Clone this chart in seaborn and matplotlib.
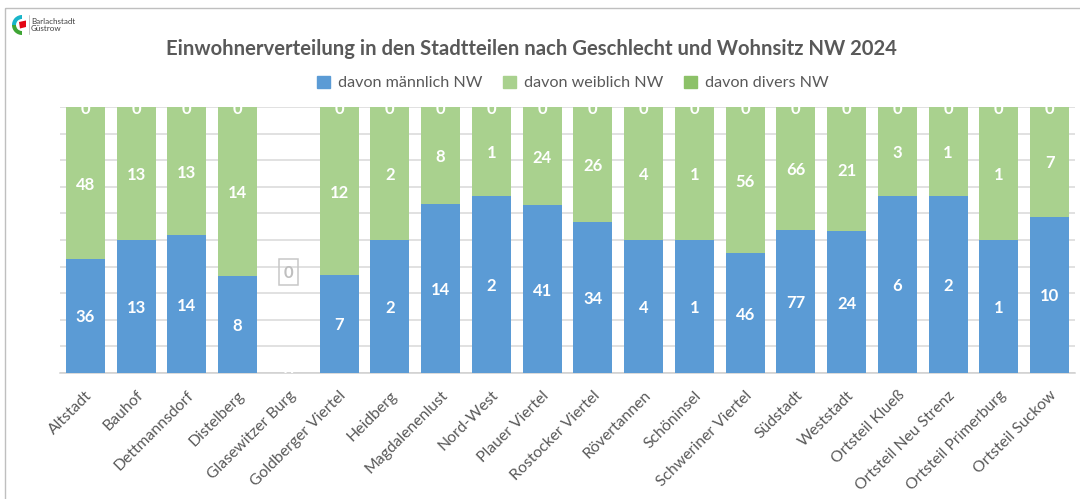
import matplotlib
matplotlib.use('Agg')
import matplotlib.pyplot as plt
from matplotlib.patches import Patch, Rectangle, Polygon, Wedge
import numpy as np
import pandas as pd
import seaborn as sns

# Werte aus dem Diagramm
stadtteile = ['Altstadt', 'Bauhof', 'Dettmannsdorf', 'Distelberg', 'Glasewitzer Burg',
              'Goldberger Viertel', 'Heidberg', 'Magdalenenlust', 'Nord-West', 'Plauer Viertel',
              'Rostocker Viertel', 'Rövertannen', 'Schöninsel', 'Schweriner Viertel', 'Südstadt',
              'Weststadt', 'Ortsteil Klueß', 'Ortsteil Neu Strenz', 'Ortsteil Primerburg', 'Ortsteil Suckow']
maennlich = [36, 13, 14, 8, 0, 7, 2, 14, 2, 41, 34, 4, 1, 46, 77, 24, 6, 2, 1, 10]
weiblich = [48, 13, 13, 14, 0, 12, 2, 8, 1, 24, 26, 4, 1, 56, 66, 21, 3, 1, 1, 7]
divers = [0] * 20
legende = ['davon männlich NW', 'davon weiblich NW', 'davon divers NW']

BLAU = '#5B9BD5'
HELLGRUEN = '#A9D18E'
GRUEN = '#8CC168'
GRAU = '#595959'

sns.set_theme(style='white')
plt.rcParams['font.family'] = ['Lato', 'DejaVu Sans']

df = pd.DataFrame({'stadtteil': stadtteile, 'm': maennlich, 'w': weiblich, 'd': divers})
summe = df[['m', 'w', 'd']].sum(axis=1).replace(0, np.nan)
df['m_anteil'] = (df['m'] / summe).fillna(0)
df['w_anteil'] = (df['w'] / summe).fillna(0)

fig = plt.figure(figsize=(10.8, 4.99), dpi=100)
ax = fig.add_axes([60 / 1080, 1 - 373 / 499, 1015 / 1080, 266 / 499])

sns.barplot(data=df, x='stadtteil', y='m_anteil', color=BLAU, width=0.77, saturation=1, linewidth=0, ax=ax, zorder=3)
sns.barplot(data=df, x='stadtteil', y='w_anteil', bottom=df['m_anteil'], color=HELLGRUEN, width=0.77,
            saturation=1, linewidth=0, ax=ax, zorder=3)

ax.set_xlim(-0.5, 19.5)
ax.set_ylim(0, 1)
ax.set_yticks(np.arange(0, 1.01, 0.1))
ax.tick_params(axis='y', left=False, labelleft=False)
ax.tick_params(axis='x', bottom=False, pad=5)
ax.set_xlabel('')
ax.set_ylabel('')
ax.yaxis.grid(True, color='#D9D9D9', lw=1.1)
ax.set_axisbelow(True)
sns.despine(ax=ax, left=True, right=True, top=True, bottom=False)
ax.spines['bottom'].set_color('#D0D0D0')
ax.spines['bottom'].set_linewidth(1.1)
ax.set_xticks(range(20))
ax.set_xticklabels(stadtteile, rotation=45, ha='right', rotation_mode='anchor', fontsize=11.3, color=GRAU)

# Datenbeschriftungen
opts = dict(color='white', fontsize=12, fontweight='bold', ha='center', va='center_baseline', zorder=5)
for i in range(20):
    if df['m'][i] + df['w'][i] == 0:
        ax.text(i, 0, '0', clip_on=True, **opts)
        ax.text(i, 0.38, '0', color='#BFBFBF', fontsize=12, fontweight='bold', ha='center', va='center_baseline', zorder=5)
        ax.add_patch(Rectangle((i - 0.185, 0.33), 0.37, 0.1, fc='none', ec='#C8C8C8', lw=1.1, zorder=4))
        continue
    m = df['m_anteil'][i]
    w = df['w_anteil'][i]
    ax.text(i, m / 2, str(df['m'][i]), **opts)
    ax.text(i, m + w / 2, str(df['w'][i]), **opts)
    ax.text(i, 1, str(df['d'][i]), clip_on=True, **opts)

fig.text(531 / 1080, 1 - 49 / 499, 'Einwohnerverteilung in den Stadtteilen nach Geschlecht und Wohnsitz NW 2024',
         fontsize=14.6, fontweight='bold', color=GRAU, ha='center', va='center')

griffe = [Patch(color=c) for c in (BLAU, HELLGRUEN, GRUEN)]
fig.legend(griffe, legende, loc='center', bbox_to_anchor=(573 / 1080, 1 - 83 / 499), ncol=3, frameon=False,
           fontsize=11.6, labelcolor=GRAU, handlelength=0.8, handleheight=0.8, handletextpad=0.5, columnspacing=1.3)

# Rahmen und Logo
lay = fig.add_axes([0, 0, 1, 1], zorder=10)
lay.set_xlim(0, 1080)
lay.set_ylim(499, 0)
lay.axis('off')
lay.add_patch(Rectangle((5, 8), 1200, 600, fc='none', ec='#BFBFBF', lw=1))
lay.add_patch(Wedge((22, 25), 10, 90, 180, width=4, fc='#3FA535', ec='none'))
lay.add_patch(Wedge((22, 25), 10, 180, 270, width=4, fc='#19B5C9', ec='none'))
lay.add_patch(Polygon([(19, 22), (26, 20.5), (26, 27), (20, 28.5)], fc='#E30613', ec='none'))
lay.plot([29, 29], [15, 34], color='#BFBFBF', lw=0.6)
lay.text(31, 25, 'Barlachstadt\nGüstrow', fontsize=5.8, color='#404040', va='center', ha='left', linespacing=0.95)

fig.savefig('out.png', dpi=100)
